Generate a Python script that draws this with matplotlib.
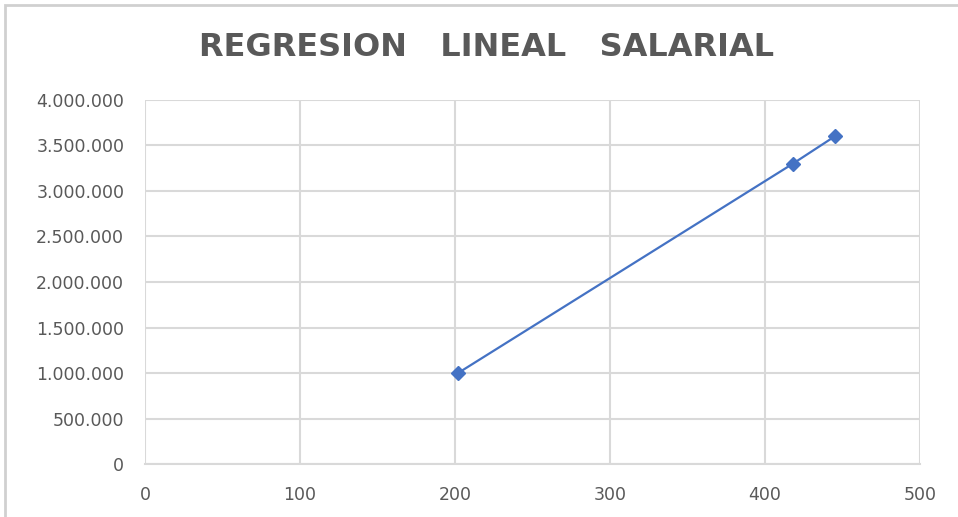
import matplotlib
matplotlib.use("Agg")
import matplotlib.pyplot as plt
from matplotlib.ticker import FuncFormatter
from matplotlib.patches import Rectangle

# Data
horas = [202, 418, 445]
salario = [1000000, 3300000, 3600000]
x_ticks = [0, 100, 200, 300, 400, 500]
y_ticks = [0, 500000, 1000000, 1500000, 2000000, 2500000, 3000000, 3500000, 4000000]

plt.rcParams['font.family'] = ['DejaVu Sans']

fig = plt.figure(figsize=(9.58, 5.17), dpi=100)
ax = fig.add_axes([0.1514, 0.1025, 0.8089, 0.7041])

ax.plot(horas, salario, color='#4472C4', linewidth=1.6, marker='D',
        markersize=7.5, zorder=3)

ax.set_xlim(0, 500)
ax.set_ylim(0, 4000000)
ax.set_xticks(x_ticks)
ax.set_yticks(y_ticks)
ax.yaxis.set_major_formatter(FuncFormatter(lambda v, p: f"{int(v):,}".replace(",", ".")))

ax.grid(True, color='#d9d9d9', linewidth=1.5)
ax.set_axisbelow(True)
for s in ['top', 'right', 'left']:
    ax.spines[s].set_visible(False)
ax.spines['bottom'].set_color('#d9d9d9')
ax.spines['bottom'].set_linewidth(1.5)
ax.tick_params(length=0, colors='#595959', labelsize=12.5)
ax.tick_params(axis='x', pad=16)
ax.tick_params(axis='y', pad=15)

fig.text(0.508, 0.909, "REGRESION   LINEAL   SALARIAL", ha='center', va='center',
         fontsize=23, fontweight='bold', color='#595959')

fig.patches.append(Rectangle((0.005, -0.05), 1.2, 1.04, transform=fig.transFigure,
                             fill=False, edgecolor='#d0d0d0', linewidth=2))

fig.savefig("out.png", dpi=100)
